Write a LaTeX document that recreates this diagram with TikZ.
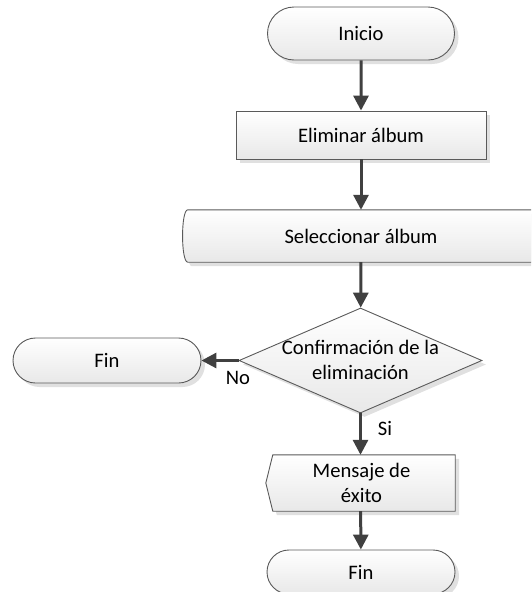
\documentclass[tikz,border=0pt]{standalone}
\usepackage{fontspec}
\setmainfont{Carlito}
\usetikzlibrary{arrows.meta,shapes.misc,shapes.geometric,shadows}
\definecolor{edge}{HTML}{5A5A5A}
\definecolor{arrowc}{HTML}{404040}
\tikzset{
  shadowed/.style={drop shadow={shadow xshift=4pt,shadow yshift=-4pt,fill=black!12,opacity=1}},
  fillshape/.style={draw=edge,line width=0.9pt,top color=white,bottom color=black!9,shadowed},
  term/.style={fillshape,rounded rectangle,rounded rectangle arc length=180,inner sep=0pt},
  proc/.style={fillshape,rectangle,inner sep=0pt},
  txt/.style={font=\fontsize{20.6}{25}\selectfont,align=center,text=black},
  arr/.style={draw=arrowc,line width=3pt,-{Triangle[length=15pt,width=15pt]}},
  lbl/.style={font=\fontsize{20.6}{24}\selectfont,text=black,inner sep=0pt}
}
\begin{document}
\begin{tikzpicture}[x=1pt,y=-1pt]
\useasboundingbox (0,0) rectangle (531,592);
\clip (0,0) rectangle (531,592);
% Inicio
\node[term,txt,minimum width=187pt,minimum height=53pt] (ini) at (361,33.5) {Inicio};
% Eliminar album
\node[proc,txt,minimum width=250pt,minimum height=48pt] (eli) at (361,135) {Eliminar álbum};
% Seleccionar album (stored data, right side beyond page)
\node[txt,minimum width=358pt,minimum height=52pt,inner sep=0pt] (sel) at (361,236) {};
\path[fillshape] ([xshift=6pt]sel.north west) .. controls ([xshift=-1pt]sel.north west) and ([xshift=-1pt]sel.south west) .. ([xshift=6pt]sel.south west)
  -- ([xshift=30pt]sel.south east) -- ([xshift=30pt]sel.north east) -- cycle;
\node[txt] at (sel.center) {Seleccionar álbum};
% Decision
\node[draw=edge,line width=0.9pt,diamond,top color=white,bottom color=black!9,shadowed,minimum width=243pt,minimum height=105pt,inner sep=0pt] (dia) at (360.5,360.5) {};
\node[txt] at ([yshift=1pt]dia.center) {Confirmación de la\\eliminación};
% Fin (left)
\node[term,txt,minimum width=188pt,minimum height=45pt] (finL) at (107,360.5) {Fin};
% Mensaje de exito (display)
\node[txt,minimum width=189pt,minimum height=56pt,inner sep=0pt] (msg) at (360.5,483) {};
\path[fillshape] (msg.west) -- ([xshift=7pt]msg.north west) -- (msg.north east) -- (msg.south east) -- ([xshift=7pt]msg.south west) -- cycle;
\node[txt] at ([xshift=1pt]msg.center) {Mensaje de\\éxito};
% Fin (bottom)
\node[term,txt,minimum width=188pt,minimum height=44pt] (finB) at (361,572) {Fin};
% connectors
\draw[arr] (ini) -- (eli);
\draw[arr] (eli) -- (sel);
\draw[arr] (sel) -- (dia);
\draw[arr] (dia.west) -- (finL.east);
\draw[arr] (dia.south) -- (msg.north);
\draw[arr] (msg) -- (finB);
% labels
\node[lbl] (no) at (238,378) {No};
\node[lbl] (si) at (385,428) {Si};
\end{tikzpicture}
\end{document}
